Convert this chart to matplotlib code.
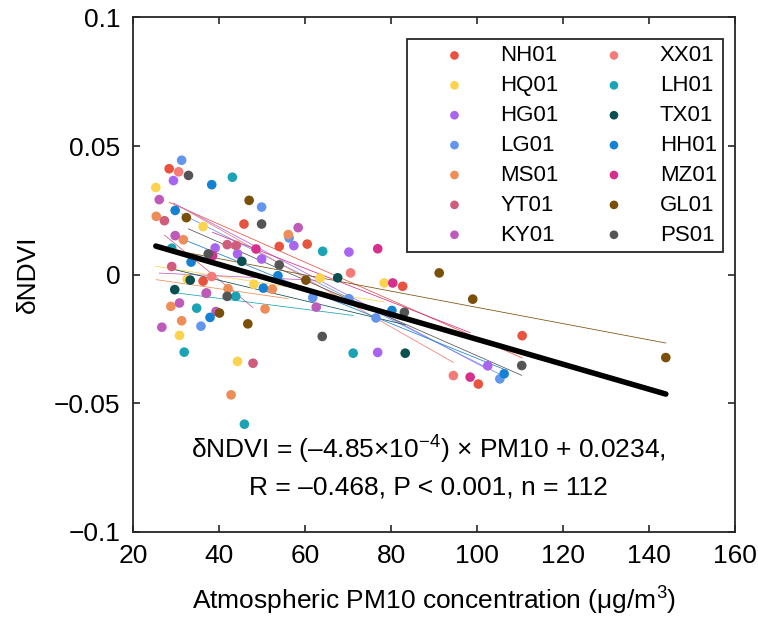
import numpy as np
import matplotlib
matplotlib.use("Agg")
import matplotlib.pyplot as plt

plt.rcParams['font.family'] = ['Liberation Sans', 'DejaVu Sans']
plt.rcParams['mathtext.fontset'] = 'custom'
plt.rcParams['mathtext.rm'] = 'Liberation Sans'
plt.rcParams['mathtext.it'] = 'Liberation Sans'

# PM10 (x) and dNDVI (y) for each station
sites = ["NH01", "HQ01", "HG01", "LG01", "MS01", "YT01", "KY01",
         "XX01", "LH01", "TX01", "HH01", "MZ01", "GL01", "PS01"]
colors = ["#E8533F", "#FCD34D", "#A965F0", "#6495ED", "#EE8D57", "#D05C7D", "#BE5ABA",
          "#F47C78", "#1AA3B5", "#0A5050", "#1581D3", "#D62F8C", "#7A5008", "#555555"]

nh_x = [28.4, 45.8, 54.0, 60.5, 82.7, 110.5, 100.3, 36.3]
nh_y = [0.0412, 0.0197, 0.0110, 0.0119, -0.0045, -0.0237, -0.0425, -0.0025]
hq_x = [25.3, 36.3, 48.1, 63.5, 78.4, 32.6, 30.8, 44.3]
hq_y = [0.0339, 0.0187, -0.0037, -0.0013, -0.0032, -0.0017, -0.0236, -0.0337]
hg_x = [29.4, 39.1, 44.3, 57.4, 70.2, 49.9, 76.9, 102.5]
hg_y = [0.0366, 0.0104, 0.0081, 0.0113, 0.0088, 0.0061, -0.0302, -0.0354]
lg_x = [31.3, 49.9, 56.3, 35.8, 61.8, 76.5, 105.3, 70.2]
lg_y = [0.0445, 0.0263, 0.0143, -0.0200, -0.0089, -0.0168, -0.0405, -0.0093]
ms_x = [25.4, 31.7, 56.1, 42.1, 52.4, 28.8, 31.3, 50.7, 42.8]
ms_y = [0.0227, 0.0136, 0.0156, -0.0054, -0.0056, -0.0123, -0.0179, -0.0133, -0.0467]
yt_x = [27.3, 29.0, 37.1, 47.9, 41.9, 44.0]
yt_y = [0.0210, 0.0032, -0.0071, -0.0344, 0.0117, 0.0114]
ky_x = [26.1, 29.8, 58.4, 30.8, 39.3, 26.7, 62.6, 37.0]
ky_y = [0.0292, 0.0152, 0.0183, -0.0110, -0.0143, -0.0204, -0.0126, -0.0072]
xx_x = [30.6, 70.6, 94.5, 38.3]
xx_y = [0.0400, 0.0007, -0.0392, -0.0007]
lh_x = [43.1, 29.0, 64.1, 43.9, 34.8, 31.9, 45.9, 71.2]
lh_y = [0.0379, 0.0103, 0.0091, -0.0084, -0.0130, -0.0301, -0.0581, -0.0305]
tx_x = [45.3, 67.6, 33.3, 29.7, 83.3]
tx_y = [0.0052, -0.0012, -0.0021, -0.0058, -0.0305]
hh_x = [38.3, 29.8, 33.5, 53.7, 50.3, 37.9, 80.2, 106.3]
hh_y = [0.0350, 0.0250, 0.0049, -0.0004, -0.0052, -0.0166, -0.0139, -0.0385]
mz_x = [48.6, 38.5, 76.9, 80.4, 98.4]
mz_y = [0.0100, 0.0074, 0.0101, -0.0032, -0.0398]
gl_x = [47.0, 32.4, 40.1, 46.7, 60.2, 91.2, 99.0, 143.9]
gl_y = [0.0289, 0.0222, -0.0149, -0.0191, -0.0021, 0.0007, -0.0095, -0.0322]
ps_x = [32.9, 49.9, 37.5, 54.0, 41.9, 64.0, 83.1, 110.4]
ps_y = [0.0386, 0.0197, 0.0081, 0.0038, -0.0084, -0.0240, -0.0146, -0.0353]

xs = [nh_x, hq_x, hg_x, lg_x, ms_x, yt_x, ky_x, xx_x, lh_x, tx_x, hh_x, mz_x, gl_x, ps_x]
ys = [nh_y, hq_y, hg_y, lg_y, ms_y, yt_y, ky_y, xx_y, lh_y, tx_y, hh_y, mz_y, gl_y, ps_y]

# overall fit from the annotation
slope = -4.85e-4
intercept = 0.0234

xticks = [20, 40, 60, 80, 100, 120, 140, 160]
yticks = [-0.1, -0.05, 0, 0.05, 0.1]
yticklabels = ["\u22120.1", "\u22120.05", "0", "0.05", "0.1"]

FS = 19

fig = plt.figure(figsize=(7.58, 6.17), dpi=100)
ax = fig.add_axes([0.1755, 0.1378, 0.7942, 0.8339])

# per-site fits (thin lines)
for x, y, c in zip(xs, ys, colors):
    x = np.array(x)
    y = np.array(y)
    k, b = np.polyfit(x, y, 1)
    xx = np.array([x.min(), x.max()])
    ax.plot(xx, k * xx + b, color=c, lw=0.55, zorder=2)

for x, y, c, s in zip(xs, ys, colors, sites):
    ax.scatter(x, y, s=48, color=c, edgecolors='none', label=s, zorder=3)

allx = np.concatenate([np.array(x) for x in xs])
xl = np.array([allx.min(), allx.max()])
ax.plot(xl, slope * xl + intercept, color='black', lw=4, solid_capstyle='round', zorder=4)

ax.set_xlim(20, 160)
ax.set_ylim(-0.1, 0.1)
ax.set_xticks(xticks)
ax.set_yticks(yticks)
ax.set_yticklabels(yticklabels)
ax.tick_params(direction='in', length=5, width=1.2, top=True, right=True,
               labelsize=FS, colors='#262626', labelcolor='black')
ax.tick_params(axis='x', pad=9)
ax.tick_params(axis='y', pad=9)
for sp in ax.spines.values():
    sp.set_linewidth(1.3)
    sp.set_color('#262626')

ax.set_xlabel("Atmospheric PM10 concentration (\u03bcg/m$^3$)", fontsize=FS, labelpad=12)
ax.set_ylabel("\u03b4NDVI", fontsize=FS, labelpad=10)

ax.text(0.49, 0.159, "\u03b4NDVI = (\u20134.85\u00d710$^{-4}$) \u00d7 PM10 + 0.0234,",
        transform=ax.transAxes, ha='center', va='center', fontsize=FS)
ax.text(0.49, 0.086, "R = \u20130.468, P < 0.001, n = 112",
        transform=ax.transAxes, ha='center', va='center', fontsize=FS)

leg = ax.legend(ncol=2, loc='upper left', bbox_to_anchor=(0.4557, 0.9576),
                borderaxespad=0, fontsize=16, frameon=True, fancybox=False,
                handlelength=3.7, handletextpad=0.21, columnspacing=0.64,
                labelspacing=0.40, borderpad=0.27, scatterpoints=1, markerscale=0.9)
leg.get_frame().set_edgecolor('#262626')
leg.get_frame().set_linewidth(1.3)
leg.get_frame().set_alpha(1)

fig.savefig("out.png", dpi=100)
